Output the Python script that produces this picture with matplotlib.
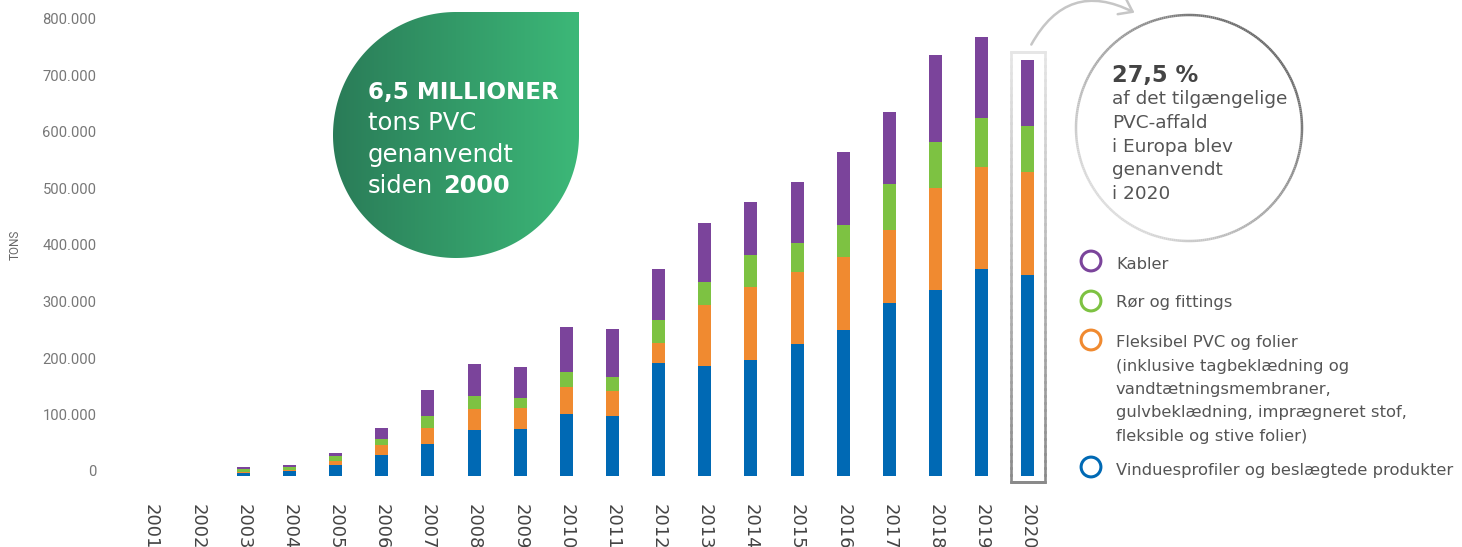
import numpy as np
import matplotlib
matplotlib.use("Agg")
import matplotlib.pyplot as plt
from matplotlib.path import Path
from matplotlib.patches import PathPatch, Circle, FancyArrowPatch
from matplotlib.collections import LineCollection
from matplotlib.colors import LinearSegmentedColormap, to_rgb
import matplotlib.transforms as mtrans

# ---------------- data (tons) ----------------
years = [str(y) for y in range(2001, 2021)]
vinduesprofiler = [0, 0, 5000, 9000, 19500, 37000, 57000, 81000, 83000, 110000,
                   106000, 200000, 195000, 205000, 234000, 258000, 306000, 329000, 366000, 356000]
fleksibel = [0, 0, 2000, 2000, 7000, 18000, 28000, 38000, 37000, 47000,
             44000, 35000, 108000, 130000, 127000, 130000, 130000, 181000, 181000, 182000]
roer = [0, 0, 5000, 5000, 9000, 10500, 21000, 23000, 18000, 27000,
        25000, 41000, 40000, 56000, 51000, 56000, 81000, 81000, 87000, 81000]
kabler = [0, 0, 4000, 3500, 5500, 19500, 46000, 56000, 55000, 80000,
          85000, 90000, 105000, 94000, 108000, 129000, 127000, 154000, 143000, 117000]
ytick_values = [0, 100000, 200000, 300000, 400000, 500000, 600000, 700000, 800000]
ytick_labels = ["0", "100.000", "200.000", "300.000", "400.000",
                "500.000", "600.000", "700.000", "800.000"]
legend_labels = [
    "Kabler",
    "Rør og fittings",
    "Fleksibel PVC og folier\n(inklusive tagbeklædning og\nvandtætningsmembraner,\ngulvbeklædning, imprægneret stof,\nfleksible og stive folier)",
    "Vinduesprofiler og beslægtede produkter",
]

C_BLUE, C_ORANGE, C_GREEN, C_PURPLE = "#0069b4", "#f08a30", "#7dc242", "#7b449b"
FONT = ["DejaVu Sans"]
FONT_AX = ["Roboto", "DejaVu Sans"]

W, H = 1462, 547
fig = plt.figure(figsize=(W / 100, H / 100), dpi=100)

# ---------------- main bar axes ----------------
x0_px, x1_px = 109.7, 1060
ax = fig.add_axes([x0_px / W, 71 / H, (x1_px - x0_px) / W, 452 / H])
x = np.arange(len(years))
bottom = np.zeros(len(years))
for vals, c in [(vinduesprofiler, C_BLUE), (fleksibel, C_ORANGE), (roer, C_GREEN), (kabler, C_PURPLE)]:
    ax.bar(x, vals, 0.282, bottom=bottom, color=c, linewidth=0, zorder=3)
    bottom += np.array(vals, dtype=float)

step = 46.15
ax.set_xlim((x0_px - 151) / step, (x1_px - 151) / step)
ax.set_ylim(0, 800000)
ax.set_yticks(ytick_values)
ax.set_yticklabels(ytick_labels, fontsize=10.6, color="#777777", family=FONT_AX)
ax.set_xticks(x)
ax.set_xticklabels(years, rotation=-90, fontsize=13, color="#444444", family=FONT)
ax.tick_params(axis="y", length=0, pad=9.5)
ax.tick_params(axis="x", length=0, pad=20)
for s in ax.spines.values():
    s.set_visible(False)
ax.set_facecolor("none")
off = mtrans.ScaledTranslation(0, 5 / 100, fig.dpi_scale_trans)
for lab in ax.get_yticklabels():
    lab.set_transform(lab.get_transform() + off)

fig.text(15 / W, 1 - 245 / H, "TONS", rotation=90, fontsize=8.5, color="#666666",
         ha="center", va="center", family=FONT_AX)

# highlight box around last bar (gradient grey)
def grad_poly(axis, pts, c_top, c_bot, lw, ymin, ymax, n=60, **kw):
    segs, cols = [], []
    ct, cb = np.array(to_rgb(c_top)), np.array(to_rgb(c_bot))
    for (xa, ya), (xb, yb) in zip(pts[:-1], pts[1:]):
        for k in range(n):
            t0, t1 = k / n, (k + 1) / n
            p0 = (xa + (xb - xa) * t0, ya + (yb - ya) * t0)
            p1 = (xa + (xb - xa) * t1, ya + (yb - ya) * t1)
            segs.append([p0, p1])
            ym = (p0[1] + p1[1]) / 2
            f = np.clip((ym - ymin) / (ymax - ymin), 0, 1)  # 1 = top
            cols.append(cb + (ct - cb) * f)
    lc = LineCollection(segs, colors=cols, linewidths=lw, capstyle="projecting", **kw)
    axis.add_collection(lc)

last = len(years) - 1
bx0, bx1 = last - 0.37, last + 0.37
by0, by1 = -11000, 751000
grad_poly(ax, [(bx0, by0), (bx0, by1), (bx1, by1), (bx1, by0), (bx0, by0)],
          "#e6e6e6", "#8a8a8a", 1.9, by0, by1, clip_on=False, zorder=4)

# ---------------- overlay (pixel coords) ----------------
ov = fig.add_axes([0, 0, 1, 1], zorder=5)
ov.patch.set_alpha(0)

# green leaf
cx, cy, r = 456, 135, 123
t = np.linspace(0, 1.5 * np.pi, 300)
pts = np.c_[cx + r * np.cos(t), cy + r * np.sin(t)]
pts = np.vstack([pts, [[cx + r, cy - r], [cx + r, cy], [cx + r, cy]]])
codes = [Path.MOVETO] + [Path.LINETO] * (len(pts) - 2) + [Path.CLOSEPOLY]
leaf = PathPatch(Path(pts, codes), facecolor="none", edgecolor="none")
ov.add_patch(leaf)
cmap = LinearSegmentedColormap.from_list("g", ["#2a7c58", "#3cb878"])
im = ov.imshow(np.linspace(0, 1, 256).reshape(1, -1), extent=[cx - r, cx + r, cy + r, cy - r],
               cmap=cmap, aspect="auto", zorder=1, interpolation="bilinear")
im.set_clip_path(leaf)

ov.text(368, 99, "6,5 MILLIONER", color="white", fontsize=16.6, fontweight="bold",
        family=FONT, va="baseline", ha="left", zorder=3)
ov.text(368, 130, "tons PVC", color="white", fontsize=17.5, family=FONT, va="baseline", zorder=3)
ov.text(368, 162, "genanvendt", color="white", fontsize=17.5, family=FONT, va="baseline", zorder=3)
ov.text(368, 193, "siden", color="white", fontsize=17.5, family=FONT, va="baseline", zorder=3)
ov.text(443, 193, "2000", color="white", fontsize=17.3, fontweight="bold", family=FONT,
        va="baseline", zorder=3)

# right circle with gradient stroke
ccx, ccy, cr = 1189, 128, 113
ang = np.linspace(0, 2 * np.pi, 361)
cpts = np.c_[ccx + cr * np.cos(ang), ccy + cr * np.sin(ang)]
segs = np.stack([cpts[:-1], cpts[1:]], axis=1)
mid = (ang[:-1] + ang[1:]) / 2
f = (np.cos(mid - (-np.pi / 4)) + 1) / 2
dark, light = np.array(to_rgb("#6a6a6a")), np.array(to_rgb("#dcdcdc"))
ccols = light + (dark - light) * f[:, None]
ov.add_collection(LineCollection(segs, colors=ccols, linewidths=1.8, zorder=2))

ov.text(1112, 82, "27,5 %", color="#444444", fontsize=16.3, fontweight="bold",
        family=FONT, va="baseline", zorder=3)
circ_lines = ["af det tilgængelige", "PVC-affald", "i Europa blev", "genanvendt", "i 2020"]
for i, s in enumerate(circ_lines):
    ov.text(1112, 104.5 + i * 23.6, s, color="#555555", fontsize=13.3, family=FONT,
            va="baseline", zorder=3)

# arrow from box to circle
arr = FancyArrowPatch((1030, 47), (1137, 14), connectionstyle="arc3,rad=-0.5",
                      arrowstyle="->,head_length=0.55,head_width=0.4", mutation_scale=16,
                      color="#c6c6c6", lw=1.8, zorder=2)
ov.add_patch(arr)

# legend
leg_cols = [C_PURPLE, C_GREEN, C_ORANGE, C_BLUE]
leg_cy = [261, 301, 340, 467]
leg_base = [269, 307, 347, 475]
for lab, c, yc, yb in zip(legend_labels, leg_cols, leg_cy, leg_base):
    ov.add_patch(Circle((1091, yc), 9.9, facecolor="none", edgecolor=c, lw=2.2, zorder=3))
    for j, line in enumerate(lab.split("\n")):
        ov.text(1116, yb + j * 23.5, line, color="#555555", fontsize=11.8, family=FONT,
                va="baseline", zorder=3)

ov.set_xlim(0, W)
ov.set_ylim(H, 0)
ov.axis("off")

fig.savefig("out.png", dpi=100, facecolor="white")
